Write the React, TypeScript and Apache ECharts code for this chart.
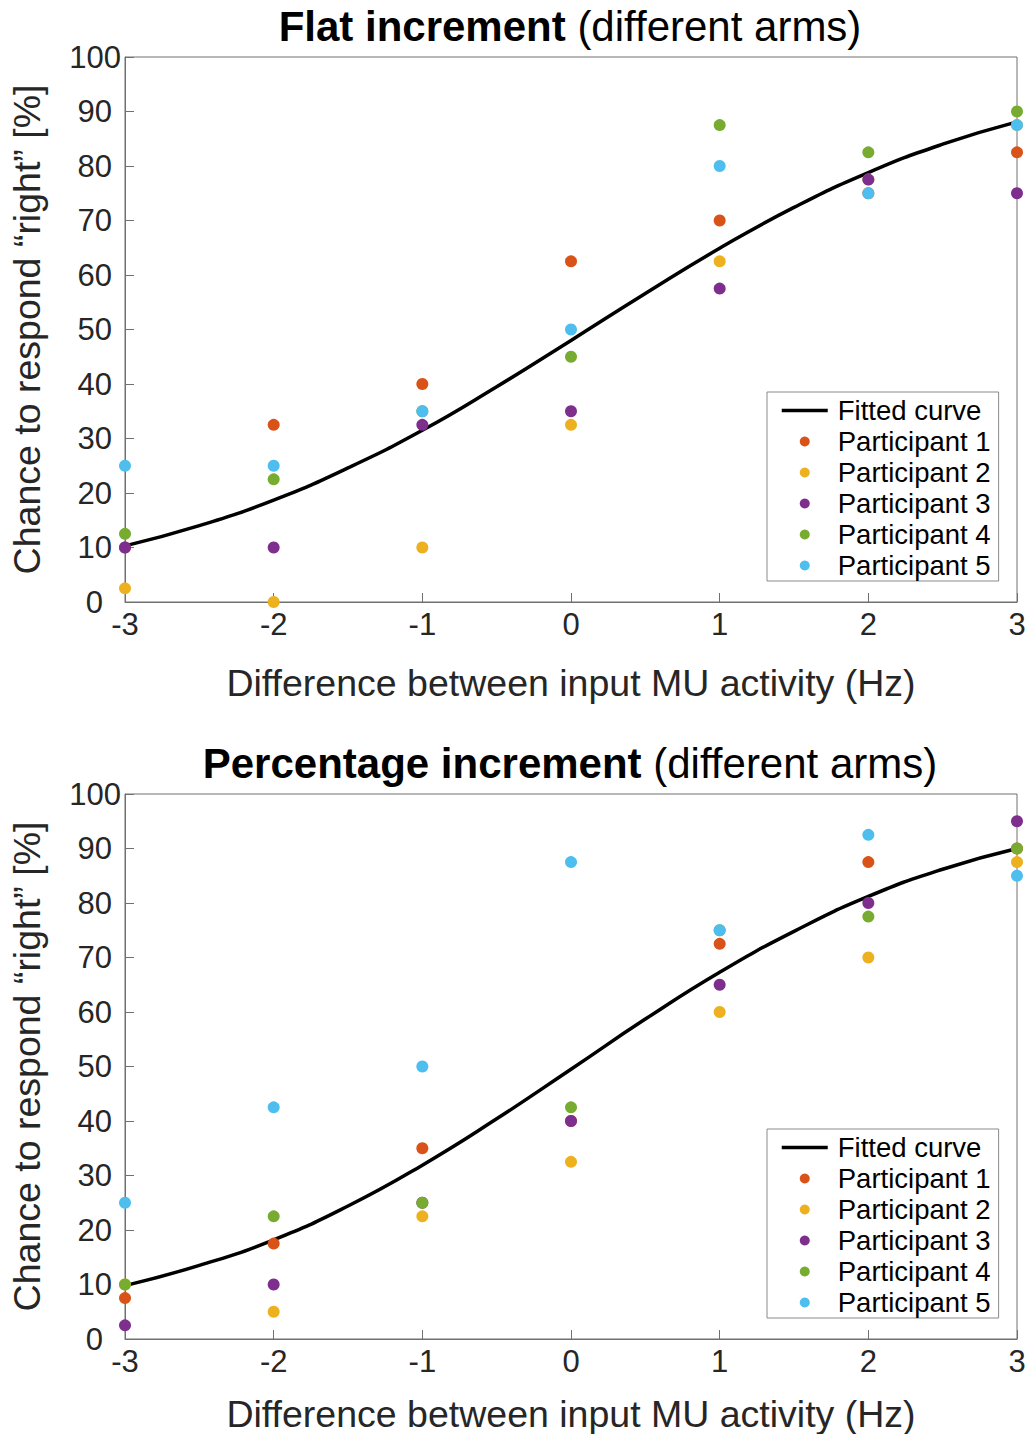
import React, { useEffect, useRef } from "react";
import * as echarts from "echarts";

// ---- data ----
const xValues = [-3, -2, -1, 0, 1, 2, 3];
const fitX = [-3, -2.5, -2, -1.5, -1, -0.5, 0, 0.5, 1, 1.5, 2, 2.5, 3];

const flatFit = [10.3, 14.0, 18.7, 24.6, 31.5, 39.5, 48.0, 56.6, 64.9, 72.4, 78.8, 84.0, 88.1];
const flatP1 = [10, 32.5, 40, 62.5, 70, 75, 82.5];
const flatP2 = [2.5, 0, 10, 32.5, 62.5, 77.5, 87.5];
const flatP3 = [10, 10, 32.5, 35, 57.5, 77.5, 75];
const flatP4 = [12.5, 22.5, 35, 45, 87.5, 82.5, 90];
const flatP5 = [25, 25, 35, 50, 80, 75, 87.5];

const pctFit = [9.8, 13.5, 18.2, 24.4, 31.9, 40.4, 49.5, 58.7, 67.3, 74.8, 81.2, 86.2, 90.0];
const pctP1 = [7.5, 17.5, 35, 40, 72.5, 87.5, 90];
const pctP2 = [10, 5, 22.5, 32.5, 60, 70, 87.5];
const pctP3 = [2.5, 10, 25, 40, 65, 80, 95];
const pctP4 = [10, 22.5, 25, 42.5, 75, 77.5, 90];
const pctP5 = [25, 42.5, 50, 87.5, 75, 92.5, 85];

const participantNames = ["Participant 1", "Participant 2", "Participant 3", "Participant 4", "Participant 5"];
const participantColors = ["#D95319", "#EDB120", "#7E2F8E", "#77AC30", "#4DBEEE"];
const fitName = "Fitted curve";
const titleBold = ["Flat increment", "Percentage increment"];
const titleRest = " (different arms)";
const xName = "Difference between input MU activity (Hz)";
const yName = "Chance to respond \u201Cright\u201D [%]";

const FONT = "Liberation Sans, Arial, Helvetica, sans-serif";
const AXIS_COLOR = "#707070";
const LABEL_COLOR = "#262626";

function pairs(xs: number[], ys: number[]) {
  return xs.map((x, i) => [x, ys[i]]);
}

function buildOption() {
  const grids = [
    { left: 124, top: 57, width: 893, height: 545 },
    { left: 124, top: 794, width: 893, height: 546 },
  ];
  const xNameGaps = [62, 56];
  const legendTops = [392, 1129];
  const titleTops = [5, 742];
  const sets = [
    { fit: flatFit, ps: [flatP1, flatP2, flatP3, flatP4, flatP5] },
    { fit: pctFit, ps: [pctP1, pctP2, pctP3, pctP4, pctP5] },
  ];

  const xAxis = grids.map((_, i) => ({
    type: "value",
    gridIndex: i,
    min: -3,
    max: 3,
    interval: 1,
    axisLine: { show: true, onZero: false, lineStyle: { color: AXIS_COLOR, width: 1 } },
    axisTick: { show: true, inside: true, length: 9, lineStyle: { color: AXIS_COLOR } },
    axisLabel: { fontSize: 31, color: LABEL_COLOR, margin: 7, fontFamily: FONT },
    splitLine: { show: false },
    name: xName,
    nameLocation: "middle",
    nameGap: xNameGaps[i],
    nameTextStyle: { fontSize: 37.5, color: LABEL_COLOR, fontFamily: FONT },
  }));

  const yAxis = grids.map((_, i) => ({
    type: "value",
    gridIndex: i,
    min: 0,
    max: 100,
    interval: 10,
    axisLine: { show: true, onZero: false, lineStyle: { color: AXIS_COLOR, width: 1 } },
    axisTick: { show: true, inside: true, length: 9, lineStyle: { color: AXIS_COLOR } },
    axisLabel: {
      margin: 4,
      formatter: (v: number) => (v === 100 ? "{a|100}" : v === 0 ? "{c|0}" : "{b|" + v + "}"),
      rich: {
        a: { fontSize: 31, color: LABEL_COLOR, fontFamily: FONT },
        b: { fontSize: 31, color: LABEL_COLOR, fontFamily: FONT, padding: [0, 9, 0, 0] },
        c: { fontSize: 31, color: LABEL_COLOR, fontFamily: FONT, padding: [0, 18, 0, 0] },
      },
    },
    splitLine: { show: false },
    name: yName,
    nameLocation: "middle",
    nameGap: 79,
    nameRotate: 90,
    nameTextStyle: { fontSize: 37.5, color: LABEL_COLOR, fontFamily: FONT },
  }));

  const series: any[] = [];
  sets.forEach((s, gi) => {
    series.push({
      type: "line",
      name: fitName,
      xAxisIndex: gi,
      yAxisIndex: gi,
      data: pairs(fitX, s.fit),
      symbol: "none",
      showSymbol: false,
      smooth: true,
      lineStyle: { color: "#000", width: 3.5 },
      itemStyle: { color: "rgba(0,0,0,0)" },
      z: 2,
    });
    s.ps.forEach((vals, pi) => {
      series.push({
        type: "scatter",
        name: participantNames[pi],
        xAxisIndex: gi,
        yAxisIndex: gi,
        data: pairs(xValues, vals),
        symbol: "circle",
        symbolSize: 12,
        clip: false,
        itemStyle: { color: participantColors[pi], opacity: 1 },
        z: 3,
      });
    });
  });

  const legend = legendTops.map((top) => ({
    orient: "vertical",
    left: 767,
    top,
    padding: [3, 8, 0, 13],
    itemGap: 0,
    itemWidth: 46,
    itemHeight: 10,
    selectedMode: false,
    borderColor: "#8a8a8a",
    borderWidth: 1,
    backgroundColor: "#fff",
    lineStyle: { color: "#000", width: 3.5 },
    textStyle: { fontSize: 27.5, lineHeight: 31, color: "#000", fontFamily: FONT, padding: [0, 0, 0, 5] },
    data: [fitName, ...participantNames],
  }));

  const title = titleBold.map((b, i) => ({
    text: "{b|" + b + "}{n|" + titleRest + "}",
    left: 570,
    top: titleTops[i],
    textAlign: "center",
    padding: 0,
    textStyle: {
      rich: {
        b: { fontSize: 42, fontWeight: "bold", color: "#000", fontFamily: FONT },
        n: { fontSize: 42, fontWeight: "normal", color: "#000", fontFamily: FONT },
      },
    },
  }));

  return {
    animation: false,
    backgroundColor: "#fff",
    textStyle: { fontFamily: FONT },
    title,
    legend,
    grid: grids.map((g) => ({ ...g, show: true, borderColor: AXIS_COLOR, borderWidth: 1, backgroundColor: "transparent" })),
    xAxis,
    yAxis,
    series,
  };
}

export default function App() {
  const ref = useRef<HTMLDivElement>(null);
  useEffect(() => {
    const chart = echarts.init(ref.current!, null, { renderer: "svg" });
    chart.setOption(buildOption() as any);
    return () => chart.dispose();
  }, []);
  return (
    <div
      ref={ref}
      style={{ position: "absolute", left: 0, top: 0, width: 1032, height: 1434, background: "#fff" }}
    />
  );
}
